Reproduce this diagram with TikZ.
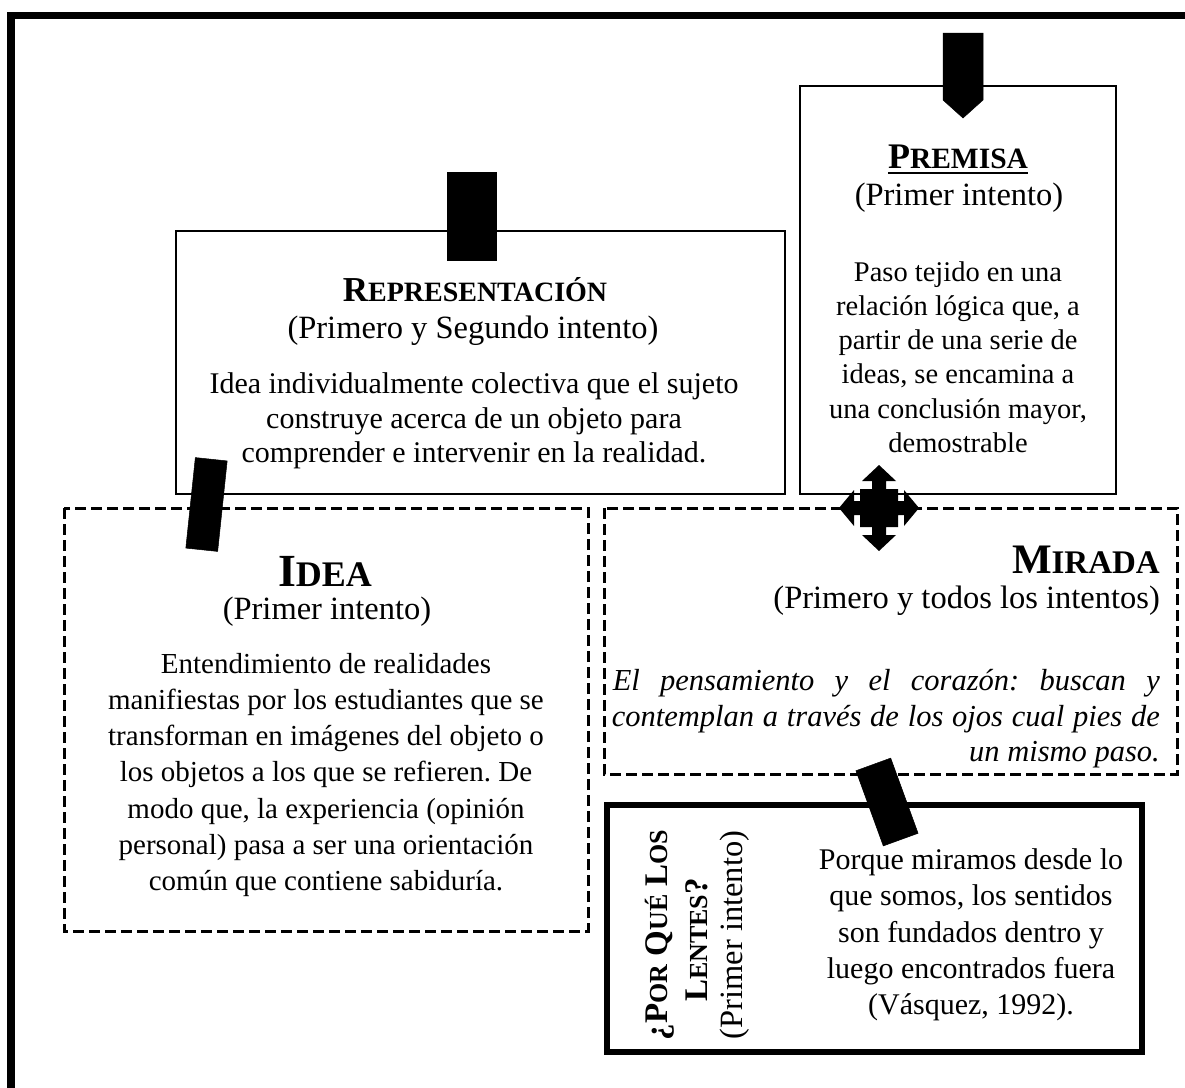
\documentclass[tikz,border=0pt]{standalone}
\usepackage{fontspec}
\setmainfont{Liberation Serif}
\frenchspacing
\newcommand{\mysc}[4]{{\fontsize{#3}{#3}\selectfont #1}{\fontsize{#4}{#4}\selectfont #2}}
\tikzset{
  solidbox/.style={draw, line width=2.5pt},
  heavybox/.style={draw, line width=6.5pt},
  dashbox/.style={draw, line width=3pt, dash pattern=on 11pt off 5pt},
  tabshape/.style={fill=black, draw=black, line width=0.5pt},
  tabnode/.style={tabshape, inner sep=0, rectangle},
  txt/.style={inner sep=0, align=center},
  subt/.style={inner sep=0, font=\fontsize{32.5}{36}\selectfont},
}
\begin{document}
\begin{tikzpicture}[x=1pt, y=-1pt]
\useasboundingbox (0,0) rectangle (1185,1087);
% outer frame (only top and left visible)
\draw[line width=7.7pt, line join=miter] (1190,15.5) -- (11,15.5) -- (11,1092);

% boxes
\draw[solidbox] (176,231) rectangle (785,494);
\draw[line width=2pt] (800,86) rectangle (1116,494);
\draw[dashbox] (64,508) rectangle (588,931);
\draw[dashbox] (604,508) rectangle (1177,774);
\draw[heavybox] (607,805) rectangle (1142,1052);

% Representacion
\node[txt] (reprT) at (475,290) {\bfseries\mysc{R}{EPRESENTACIÓN}{35}{28}};
\node[subt] (reprS) at (473,331) {(Primero y Segundo intento)};
\node[txt, font=\fontsize{30}{34.5}\selectfont] (reprB) at (474,421)
  {Idea individualmente colectiva que el sujeto\\construye acerca de un objeto para\\comprender e intervenir en la realidad.};

% Premisa
\node[txt] (premT) at (958,157) {\bfseries\mysc{P}{REMISA}{36}{29.5}};
\draw[line width=1.6pt] ([yshift=-4pt]premT.south west) -- ([yshift=-4pt]premT.south east);
\node[subt] (premS) at (959,198) {(Primer intento)};
\node[txt, font=\fontsize{28.5}{34.2}\selectfont] (premB) at (958,357)
  {Paso tejido en una\\relación lógica que, a\\partir de una serie de\\ideas, se encamina a\\una conclusión mayor,\\demostrable};

% Idea
\node[txt] (ideaT) at (325,571) {\bfseries\mysc{I}{DEA}{46}{36}};
\node[subt] (ideaS) at (327,612) {(Primer intento)};
\node[txt, font=\fontsize{29}{36.2}\selectfont] (ideaB) at (326,775)
  {Entendimiento de realidades\\manifiestas por los estudiantes que se\\transforman en imágenes del objeto o\\los objetos a los que se refieren. De\\modo que, la experiencia (opinión\\personal) pasa a ser una orientación\\común que contiene sabiduría.};

% Mirada
\node[txt, anchor=east] (miraT) at (1160,560) {\bfseries\mysc{M}{IRADA}{42}{33}};
\node[subt, anchor=east] (miraS) at (1160,601) {(Primero y todos los intentos)};
\node[txt, anchor=east, font=\fontsize{30.5}{36}\itshape] (miraB1) at (1160,683)
  {\makebox[547pt][s]{El pensamiento y el corazón: buscan y}};
\node[txt, anchor=east, font=\fontsize{30.5}{36}\itshape] (miraB2) at (1160,719)
  {\makebox[548pt][s]{contemplan a través de los ojos cual pies de}};
\node[txt, anchor=east, font=\fontsize{30.5}{36}\itshape] (miraB3) at (1160,755)
  {un mismo paso.};

% Lentes
\node[txt, rotate=90] (lenT1) at (660,935) {\bfseries\mysc{¿P}{OR}{33}{26}\mysc{ Q}{UÉ}{33}{26}\mysc{ L}{OS}{33}{26}};
\node[txt, rotate=90] (lenT2) at (697,940) {\bfseries\mysc{L}{ENTES}{33}{26}\mysc{?}{}{33}{26}};
\node[subt, rotate=90] (lenS) at (735,935) {(Primer intento)};
\node[txt, font=\fontsize{30}{36.25}\selectfont] (lenB) at (971,935)
  {Porque miramos desde lo\\que somos, los sentidos\\son fundados dentro y\\luego encontrados fuera\\(Vásquez, 1992).};

% tabs
\node[tabnode, minimum width=49pt, minimum height=88pt] (tabRepr) at (471.5,216) {};
\draw[tabshape] (943,33) -- (983,33) -- (983,100) -- (963,118) -- (943,100) -- cycle;
\node[tabnode, minimum width=32pt, minimum height=91pt, rotate=-6] (tabIdea) at (206.5,504.5) {};
\node[tabnode, minimum width=37pt, minimum height=80pt, rotate=20] (tabLen) at (887,802) {};

% four-way arrow
\coordinate (cross) at (879,508);
\fill[shift={(cross)}] (0,-43) -- (17,-27) -- (7,-27) -- (7,-19) -- (19,-19) -- (19,-7) -- (25,-7) -- (25,-18) -- (40,0) -- (25,18) -- (25,7) -- (19,7) -- (19,19) -- (7,19) -- (7,27) -- (17,27) -- (0,43) -- (-17,27) -- (-7,27) -- (-7,19) -- (-19,19) -- (-19,7) -- (-25,7) -- (-25,18) -- (-40,0) -- (-25,-18) -- (-25,-7) -- (-19,-7) -- (-19,-19) -- (-7,-19) -- (-7,-27) -- (-17,-27) -- cycle;
\end{tikzpicture}
\end{document}
